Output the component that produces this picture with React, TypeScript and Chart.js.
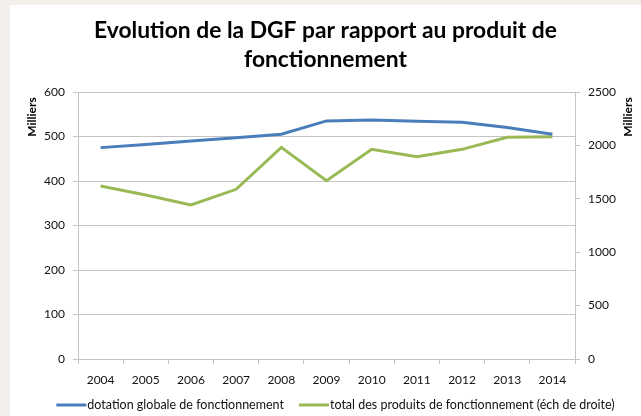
import React, { useEffect, useRef } from "react";
import { Chart, registerables } from "chart.js";

Chart.register(...registerables);

const years = ["2004", "2005", "2006", "2007", "2008", "2009", "2010", "2011", "2012", "2013", "2014"];
const dotationGlobale = [475, 482, 490, 497, 505, 535, 537, 534, 532, 520, 505];
const totalProduits = [1620, 1535, 1442, 1589, 1982, 1670, 1963, 1895, 1963, 2076, 2082];
const titleLines = ["Evolution de la DGF par rapport au produit de", "fonctionnement"];
const seriesNames = ["dotation globale de fonctionnement", "total des produits de fonctionnement (éch de droite)"];
const axisTitle = "Milliers";

const BLUE = "#4a7ebb";
const GREEN = "#98b954";
const GRID = "#c4c4c4";
const FONT = "Lato, 'Open Sans', sans-serif";

const axisTitlesPlugin = {
  id: "axisTitles",
  afterDraw(chart: any) {
    const { ctx, chartArea } = chart;
    ctx.save();
    ctx.font = `bold 12px ${FONT}`;
    ctx.fillStyle = "#000";
    ctx.textAlign = "center";
    ctx.textBaseline = "middle";
    const draw = (x: number, y: number) => {
      ctx.save();
      ctx.translate(x, y);
      ctx.rotate(-Math.PI / 2);
      ctx.fillText(axisTitle, 0, 0);
      ctx.restore();
    };
    draw(chartArea.left - 46, chartArea.top + 25);
    draw(chartArea.right + 53, chartArea.top + 25);
    ctx.restore();
  },
};

const lineLegendPlugin = {
  id: "lineLegend",
  afterDraw(chart: any) {
    const { ctx, width, height } = chart;
    ctx.save();
    ctx.font = `12.5px ${FONT}`;
    ctx.textBaseline = "middle";
    ctx.textAlign = "left";
    const lineW = 30;
    const gapText = 1;
    const gapItems = 15;
    const items = chart.data.datasets.map((ds: any) => ({
      text: ds.label,
      color: ds.borderColor,
      w: lineW + gapText + ctx.measureText(ds.label).width,
    }));
    const total = items.reduce((a: number, it: any) => a + it.w, 0) + gapItems * (items.length - 1);
    let x = width / 2 + 10 - total / 2;
    const y = height - 11;
    for (const it of items) {
      ctx.fillStyle = it.color;
      ctx.fillRect(x, y - 1.5, lineW, 3);
      ctx.fillStyle = "#111";
      ctx.fillText(it.text, x + lineW + gapText, y);
      x += it.w + gapItems;
    }
    ctx.restore();
  },
};

export default function App() {
  const ref = useRef<HTMLCanvasElement | null>(null);
  useEffect(() => {
    if (!ref.current) return;
    const chart = new Chart(ref.current, {
      type: "line",
      data: {
        labels: years,
        datasets: [
          {
            label: seriesNames[0],
            data: dotationGlobale,
            borderColor: BLUE,
            backgroundColor: BLUE,
            borderWidth: 3,
            pointRadius: 0,
            tension: 0,
            yAxisID: "y",
          },
          {
            label: seriesNames[1],
            data: totalProduits,
            borderColor: GREEN,
            backgroundColor: GREEN,
            borderWidth: 3,
            pointRadius: 0,
            tension: 0,
            yAxisID: "y1",
          },
        ],
      },
      options: {
        animation: false,
        responsive: false,
        layout: { padding: { top: 0, left: 0, right: 0, bottom: 27 } },
        plugins: {
          title: {
            display: true,
            text: titleLines,
            color: "#000",
            font: { family: FONT, size: 22.8, weight: "bold", lineHeight: "29px" },
            padding: { top: 11, bottom: 18 },
          },
          legend: { display: false },
          tooltip: { enabled: false },
        },
        scales: {
          x: {
            offset: true,
            grid: { offset: true, drawOnChartArea: false, color: GRID, tickLength: 5 },
            border: { color: GRID },
            ticks: { color: "#111", font: { family: FONT, size: 12 }, padding: 9, maxRotation: 0 },
            afterFit: (s: any) => { s.height = 30; },
          },
          y: {
            position: "left",
            min: 0,
            max: 600,
            ticks: { stepSize: 100, color: "#111", font: { family: FONT, size: 12 }, padding: 8 },
            grid: { color: GRID, tickLength: 5 },
            border: { color: GRID },
            afterFit: (s: any) => { s.width = 68; },
          },
          y1: {
            position: "right",
            min: 0,
            max: 2500,
            ticks: {
              stepSize: 500,
              color: "#111",
              font: { family: FONT, size: 12 },
              padding: 8,
              callback: (v: any) => String(v),
            },
            grid: { drawOnChartArea: false, color: GRID, tickLength: 5 },
            border: { color: GRID },
            afterFit: (s: any) => { s.width = 66; },
          },
        },
      } as any,
      plugins: [axisTitlesPlugin, lineLegendPlugin],
    });
    return () => chart.destroy();
  }, []);

  return (
    <div style={{ position: "fixed", left: 0, top: 0, width: 641, height: 416, background: "#f3efeb" }}>
      <div style={{ position: "absolute", left: 10, top: 5, width: 631, height: 411, background: "#fff" }}>
        <canvas ref={ref} width={631} height={411} style={{ display: "block" }} />
      </div>
    </div>
  );
}
